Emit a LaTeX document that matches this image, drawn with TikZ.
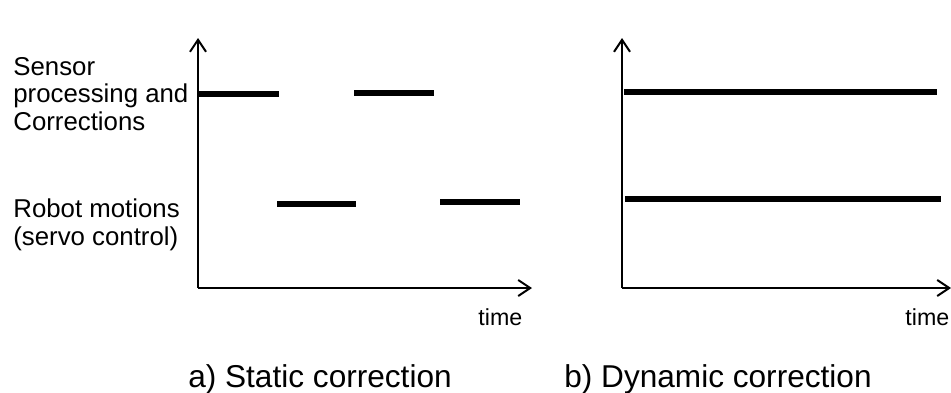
\documentclass[tikz,border=0pt]{standalone}
\usepackage{fontspec}
\setmainfont{Liberation Sans}
\usetikzlibrary{arrows.meta,positioning}
\definecolor{Ink}{HTML}{000000}
\tikzset{
  axis/.style={-{Straight Barb[length=6pt,width=8pt,line width=1pt]},draw=Ink,line width=1pt},
  busy/.style={draw=Ink,line width=3pt},
  rowlabel/.style={anchor=base west,inner sep=0pt,align=left,text=Ink,font=\fontsize{12.9}{13.75}\selectfont},
  timelabel/.style={anchor=base west,inner sep=0pt,text=Ink,font=\fontsize{11.6}{13}\selectfont},
  caption/.style={anchor=base,inner sep=0pt,text=Ink,font=\fontsize{15.8}{18}\selectfont}
}

\begin{document}
\begin{tikzpicture}[x=0.5pt,y=-0.5pt]
  \useasboundingbox (0,0) rectangle (951,392);

  % a) static: sensing and motion take turns
  \coordinate (sO) at (198,288);
  \coordinate (sY) at (198,38);
  \coordinate (sX) at (532,288);
  \draw[axis] (sO) -- (sY);
  \draw[axis] (sO) -- (sX);
  \foreach \a/\b/\y in {199/279/94, 354/434/93, 277/356/204, 440/520/202}
    \draw[busy] (\a,\y) -- (\b,\y);
  % base of a multi-line node sits on its last line
  \node[rowlabel] (sensor) at (13,130) {Sensor\\processing and\\Corrections};
  \node[rowlabel] (robot) at (13,245) {Robot motions\\(servo control)};
  \node[timelabel] (sT) at (478,325) {time};
  \node[caption] (capA) at (320,387) {a) Static correction};

  % b) dynamic: both run all the time
  \coordinate (dO) at (622,288);
  \coordinate (dY) at (622,38);
  \coordinate (dX) at (951,288);
  \draw[axis] (dO) -- (dY);
  \draw[axis] (dO) -- (dX);
  \draw[busy] (624,92) -- (937,92);
  \draw[busy] (625,199) -- (941,199);
  \node[timelabel] (dT) at (905,325) {time};
  \node[caption] (capB) at (718,387) {b) Dynamic correction};
\end{tikzpicture}
\end{document}
